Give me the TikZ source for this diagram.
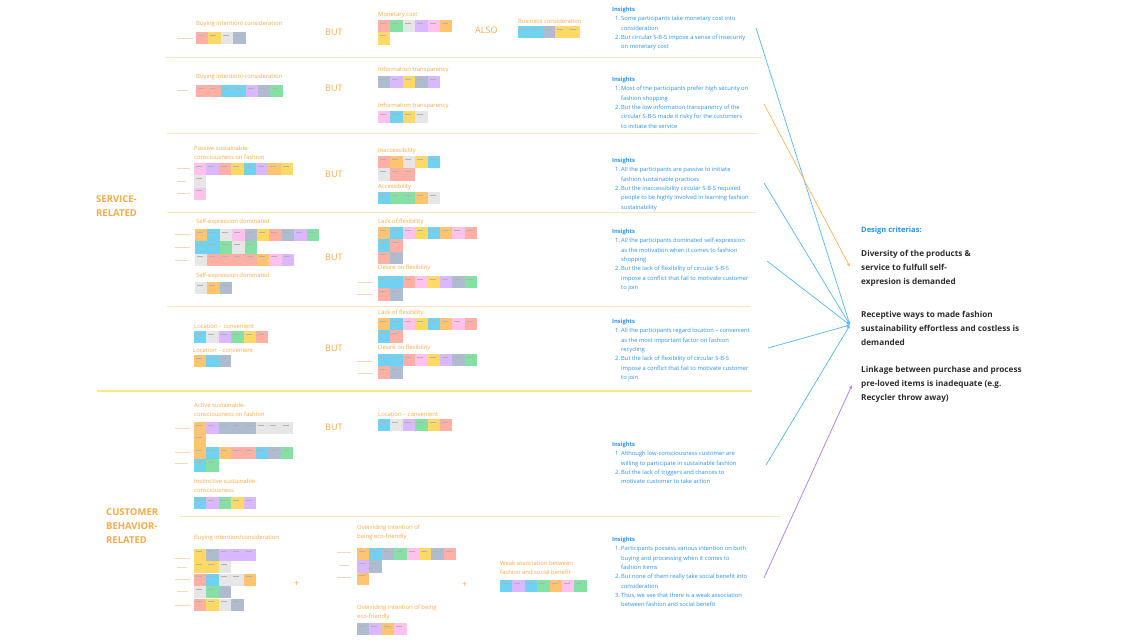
\documentclass[tikz,border=0pt]{standalone}
\usepackage{fontspec}
\setmainfont{Open Sans}
\usetikzlibrary{arrows.meta}
\definecolor{sal}{RGB}{255,175,163}
\definecolor{yel}{RGB}{255,217,102}
\definecolor{gry}{RGB}{230,230,230}
\definecolor{sla}{RGB}{175,188,207}
\definecolor{grn}{RGB}{133,224,163}
\definecolor{cya}{RGB}{112,210,240}
\definecolor{lav}{RGB}{217,184,255}
\definecolor{pnk}{RGB}{255,194,236}
\definecolor{org}{RGB}{255,196,112}
\definecolor{labc}{RGB}{247,170,70}
\definecolor{sepc}{RGB}{253,226,192}
\definecolor{yelc}{RGB}{252,235,120}
\definecolor{tagc}{RGB}{245,215,185}
\definecolor{insc}{RGB}{40,145,235}
\definecolor{critc}{RGB}{45,45,45}
\definecolor{arrb}{RGB}{95,185,245}
\definecolor{arro}{RGB}{250,185,100}
\definecolor{arrp}{RGB}{180,125,245}
\newcommand{\stickyrow}[3]{%
  \foreach \c [count=\i from 0] in {#3}{%
    \fill[\c] ({#1+\i*12.4},#2) rectangle ++(12.4,12.3);
    \draw[black!30,line width=0.5pt] ({#1+\i*12.4+2},#2+3) -- ++(6,0);
  }}
\newcommand{\tagline}[3]{\draw[tagl] (#1,#3) -- (#2,#3);}
\newcommand{\itm}[1]{\makebox[9pt][l]{\hspace{3pt}#1.}}
\newcommand{\ind}{\hspace*{9pt}}
\begin{document}
\begin{tikzpicture}[x=1pt,y=-1pt,
  lbl/.style={anchor=west,inner sep=0,text=labc,font=\fontsize{5.9}{9}\selectfont,align=left},
  but/.style={anchor=west,inner sep=0,text=labc,font=\fontsize{9}{10}\selectfont},
  sec/.style={anchor=north west,inner sep=0,text=labc,font=\bfseries\fontsize{9.5}{14}\selectfont,align=left},
  ins/.style={anchor=north west,inner sep=0,text=insc,font=\fontsize{5.8}{9.3}\selectfont,align=left},
  crit/.style={anchor=north west,inner sep=0,text=critc,font=\bfseries\fontsize{8.2}{14}\selectfont,align=left},
  sep/.style={draw=sepc,line width=0.8pt},
  tagl/.style={draw=tagc,line width=0.8pt},
  arr/.style={-{Latex[length=3.5pt,width=3pt]},line width=0.75pt}]
\fill[white] (0,0) rectangle (1140,642);
\useasboundingbox (0,0) rectangle (1140,642);
%Trennlinien
\draw[sep] (166,57) -- (762,57);
\draw[sep] (167,133) -- (757,133);
\draw[sep] (167,212) -- (756,212);
\draw[sep] (167,306) -- (751,306);
\draw[draw=yelc,line width=1.8pt] (97,391) -- (752,391);
\draw[sep] (180,516) -- (780,516);
%Bereiche
\node[sec] (service) at (96,195.6) {SERVICE-\\RELATED};
\node[sec] (customer) at (106,508.6) {CUSTOMER\\BEHAVIOR-\\RELATED};
%Zeile 1
\node[lbl] (buy1) at (196,24) {Buying intention) consideration};
\tagline{177}{193}{38}
\stickyrow{196}{32}{sal,yel,gry,sla}
\node[but] (but1) at (325,32) {BUT};
\node[lbl] (cost) at (378,15) {Monetary cost};
\stickyrow{378}{20}{sal,grn,gry,lav,pnk,org}
\stickyrow{378}{32.3}{yel}
\node[but] (also) at (475,30) {ALSO};
\node[lbl] (business) at (518,21) {Business consideration};
\stickyrow{518}{26}{cya,cya,sla,yel,yel}
\node[ins] (ins1) at (612,7) {\textbf{Insights}\\
  \itm{1}Some participants take monetary cost into\\ \ind consideration\\
  \itm{2}But circular S-B-S impose a sense of insecurity\\ \ind on monetary cost};
%Zeile 2
\node[lbl] (buy2) at (196,77) {Buying intention) consideration};
\tagline{177}{188}{90}
\stickyrow{196}{85}{sal,sal,cya,cya,lav,sla,grn}
\node[but] (but2) at (325,88) {BUT};
\node[lbl] (transp1) at (378,70) {Information transparency};
\stickyrow{378}{76}{sla,lav,yel,sla,lav}
\node[lbl] (transp2) at (378,106) {Information transparency};
\stickyrow{378}{111}{pnk,cya,yel,gry}
\node[ins] (ins2) at (612,77) {\textbf{Insights}\\
  \itm{1}Most of the participants prefer high security on\\ \ind fashion shopping\\
  \itm{2}But the low information transparency of the\\ \ind circular S-B-S made it risky for the customers\\ \ind to initiate the service};
%Zeile 3
\node[lbl] (passive) at (194,152.5) {Passive sustainable-\\consciousness on fashion};
\tagline{177}{190}{168}
\tagline{177}{186}{181}
\tagline{177}{190}{193}
\stickyrow{194}{163}{pnk,lav,sal,yel,cya,lav,org,yel}
\stickyrow{194}{175.3}{gry}
\stickyrow{194}{187.6}{pnk}
\node[but] (but3) at (325,174) {BUT};
\node[lbl] (inacc) at (378,151) {Inaccessibility};
\stickyrow{378}{156}{sal,org,gry,yel,cya}
\stickyrow{378}{168.3}{gry,sal,sal}
\node[lbl] (acc) at (378,187) {Accessibility};
\stickyrow{378}{192}{cya,grn,grn,org,gry}
\node[ins] (ins3) at (612,158) {\textbf{Insights}\\
  \itm{1}All the participants are passive to initiate\\ \ind fashion sustainable practices\\
  \itm{2}But the inaccessibility circular S-B-S required\\ \ind people to be highly involved in learning fashion\\ \ind sustainability};
%Zeile 4
\node[lbl] (self1) at (196,222) {Self-expression dominated};
\tagline{175}{190}{234}
\tagline{175}{190}{247}
\tagline{175}{188}{260}
\stickyrow{195}{229}{org,cya,gry,pnk,sla,yel,sal,sla,lav,grn}
\stickyrow{195}{241.3}{cya,cya,grn,gry,grn}
\stickyrow{195}{253.6}{gry,sal,sal,sal,sal,org,pnk,lav}
\node[lbl] (self2) at (196,276) {Self-expression dominated};
\stickyrow{195}{282}{gry,org,sla}
\node[but] (but4) at (325,257) {BUT};
\node[lbl] (lack1) at (378,222) {Lack of flexibility};
\stickyrow{378}{227}{org,cya,pnk,yel,cya,org,pnk,sal}
\stickyrow{378}{239.3}{cya,sal}
\stickyrow{378}{251.6}{sal,sla}
\node[lbl] (desire1) at (378,268) {Desire on flexibility};
\stickyrow{378}{276}{cya,cya,sal,pnk,yel,lav,sla,grn}
\stickyrow{378}{288.3}{sal,sla}
\tagline{357}{373}{282}
\tagline{357}{373}{294}
\node[ins] (ins4) at (612,229) {\textbf{Insights}\\
  \itm{1}All the participants dominated self-expression\\ \ind as the motivation when it comes to fashion\\ \ind shopping\\
  \itm{2}But the lack of flexibility of circular S-B-S\\ \ind impose a conflict that fail to motivate customer\\ \ind to join};
%Zeile 5
\node[lbl] (loc1) at (194,326) {Location -- convenient};
\stickyrow{194}{331}{cya,gry,lav,grn,yel,sal}
\node[lbl] (loc2) at (193,350) {Location -- convenient};
\stickyrow{194}{355}{org,cya,sla}
\node[but] (but5) at (325,348) {BUT};
\node[lbl] (lack2) at (378,313) {Lack of flexibility};
\stickyrow{378}{318}{org,cya,pnk,yel,cya,org,pnk,sal}
\stickyrow{378}{330.3}{cya,sal}
\node[lbl] (desire2) at (378,348) {Desire on flexibility};
\stickyrow{378}{354}{cya,cya,sal,pnk,yel,lav,sla,grn}
\stickyrow{378}{366.3}{sal,sla}
\tagline{357}{373}{361}
\tagline{357}{373}{373}
\node[ins] (ins5) at (612,319) {\textbf{Insights}\\
  \itm{1}All the participants regard location -- convenient\\ \ind as the most important factor on fashion\\ \ind recycling\\
  \itm{2}But the lack of flexibility of circular S-B-S\\ \ind impose a conflict that fail to motivate customer\\ \ind to join};
%Zeile 6
\node[lbl] (active) at (194,409.5) {Active sustainable-\\consciousness on fashion};
\tagline{175}{190}{428}
\tagline{175}{190}{452}
\tagline{175}{188}{463}
\stickyrow{194}{422}{org,lav,sla,sla,sla,gry,gry,gry}
\stickyrow{194}{434.3}{org}
\stickyrow{194}{447}{org,cya,org,sal,sal,cya,sla,grn}
\stickyrow{194}{459.3}{cya,grn}
\node[lbl] (instinct) at (194,486) {Instinctive sustainable-\\consciousness};
\stickyrow{194}{497}{cya,lav,grn,yel,lav}
\node[but] (but6) at (325,427) {BUT};
\node[lbl] (loc3) at (378,414) {Location -- convenient};
\stickyrow{378}{419}{cya,gry,lav,grn,yel,sal}
\node[ins] (ins6) at (612,442) {\textbf{Insights}\\
  \itm{1}Although low-consciousness customer are\\ \ind willing to participate in sustainable fashion\\
  \itm{2}But the lack of triggers and chances to\\ \ind motivate customer to take action};
%Zeile 7
\node[lbl] (buy3) at (194,538) {Buying intention/consideration};
\tagline{175}{190}{558}
\tagline{177}{187}{567}
\tagline{175}{190}{579}
\tagline{177}{188}{591}
\tagline{175}{190}{605}
\stickyrow{194}{548.5}{yel,sla,lav,lav,lav}
\stickyrow{194}{561}{yel,yel,gry}
\stickyrow{194}{573.5}{sal,cya,gry,gry,org}
\stickyrow{194}{586}{gry,grn,sla}
\stickyrow{194}{598.5}{sal,yel,gry,sla}
\node[but] (plus1) at (294,584) {+};
\node[lbl] (eco1) at (357,532.5) {Overriding intention of\\being eco-friendly};
\tagline{337}{351}{552}
\tagline{339}{349}{565}
\tagline{337}{351}{577}
\stickyrow{357}{548}{org,cya,sla,grn,pnk,yel,sla,sal}
\stickyrow{357}{560.3}{lav,sla}
\stickyrow{357}{572.6}{org}
\node[lbl] (eco2) at (357,612) {Overriding intention of being\\eco-friendly};
\stickyrow{357}{623}{sla,lav,org,pnk}
\node[but] (plus2) at (462,585) {+};
\node[lbl] (weak) at (500,568) {Weak association between\\fashion and social benefit};
\stickyrow{500}{580}{cya,lav,cya,grn,org,pnk,grn}
\node[ins] (ins7) at (612,537) {\textbf{Insights}\\
  \itm{1}Participants possess various intention on both\\ \ind buying and processing when it comes to\\ \ind fashion items\\
  \itm{2}But none of them really take social benefit into\\ \ind consideration\\
  \itm{3}Thus, we see that there is a weak association\\ \ind between fashion and social benefit};
%Design criterias
\node[anchor=west,inner sep=0,text=insc,font=\bfseries\fontsize{7.5}{9}\selectfont] (design) at (861,231) {Design criterias:};
\node[crit] (crit1) at (861,250) {Diversity of the products \&\\service to fulfull self-\\expresion is demanded};
\node[crit] (crit2) at (861,311) {Receptive ways to made fashion\\sustainability effortless and costless is\\demanded};
\node[crit] (crit3) at (861,366) {Linkage between purchase and process\\pre-loved items is inadequate (e.g.\\Recycler throw away)};
%Pfeile
\coordinate (a1) at (756,28);
\coordinate (a2) at (764,104);
\coordinate (a3) at (764,183);
\coordinate (a4) at (767,261);
\coordinate (a5) at (768,348);
\coordinate (a6) at (766,465);
\coordinate (a7) at (764,578);
\coordinate (d1) at (850,267);
\coordinate (d2) at (850,325);
\coordinate (d3) at (852,385);
\draw[arr,arrb] (a1) -- (d2);
\draw[arr,arro] (a2) -- (d1);
\draw[arr,arrb] (a3) -- (d2);
\draw[arr,arrb] (a4) -- (d2);
\draw[arr,arrb] (a5) -- (d2);
\draw[arr,arrb] (a6) -- (d2);
\draw[arr,arrp] (a7) -- (d3);
\end{tikzpicture}
\end{document}
